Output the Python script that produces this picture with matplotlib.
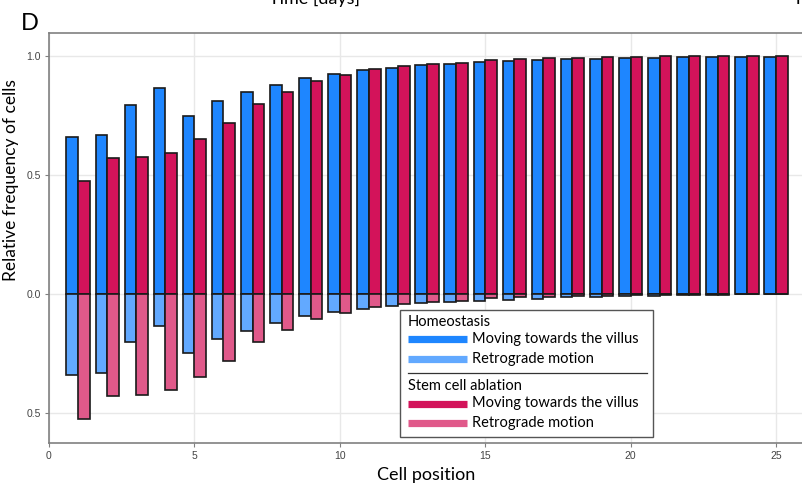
import numpy as np
import matplotlib
matplotlib.use("Agg")
import matplotlib.pyplot as plt
from matplotlib.patches import Rectangle
from matplotlib.lines import Line2D

# values
cell_positions = list(range(1, 26))
homeostasis_forward = [0.661, 0.670, 0.797, 0.866, 0.750, 0.813, 0.848, 0.879, 0.907, 0.927,
                       0.942, 0.952, 0.962, 0.968, 0.975, 0.979, 0.983, 0.987, 0.990, 0.992,
                       0.994, 0.997, 0.998, 0.999, 0.999]
homeostasis_retrograde = [0.340, 0.331, 0.203, 0.134, 0.249, 0.187, 0.153, 0.121, 0.092, 0.075,
                          0.061, 0.048, 0.039, 0.032, 0.027, 0.024, 0.020, 0.014, 0.011, 0.007,
                          0.006, 0.004, 0.002, 0.001, 0.001]
ablation_forward = [0.474, 0.571, 0.578, 0.595, 0.654, 0.719, 0.800, 0.851, 0.896, 0.923,
                    0.945, 0.959, 0.966, 0.973, 0.983, 0.987, 0.992, 0.992, 0.996, 0.999,
                    1.000, 1.000, 1.000, 1.000, 1.000]
ablation_retrograde = [0.525, 0.430, 0.423, 0.405, 0.347, 0.281, 0.201, 0.151, 0.105, 0.079,
                       0.056, 0.041, 0.035, 0.028, 0.017, 0.014, 0.011, 0.008, 0.006, 0.004,
                       0.003, 0.002, 0.002, 0.000, 0.000]
y_ticks = [-0.5, 0.0, 0.5, 1.0]
y_tick_labels = ["0.5", "0.0", "0.5", "1.0"]
x_ticks = [0, 5, 10, 15, 20, 25]

blue = "#1E86FF"
light_blue = "#62A9FF"
red = "#D3135A"
pink = "#E0598A"
edge = "#1a1a1a"
label_font = ["Lato", "DejaVu Sans"]
tick_font = ["Liberation Sans", "DejaVu Sans"]

W, H = 803, 487
fig = plt.figure(figsize=(W / 100, H / 100), dpi=100)


def fx(px):
    return px / W


def fy(py):
    return 1 - py / H


ax = fig.add_axes([fx(49), fy(443), fx(803 - 49), (443 - 33) / H])

x = np.array(cell_positions)
width = 0.4
ax.bar(x - 0.2, homeostasis_forward, width, color=blue, edgecolor=edge, linewidth=1.2, zorder=3)
ax.bar(x + 0.2, ablation_forward, width, color=red, edgecolor=edge, linewidth=1.2, zorder=3)
ax.bar(x - 0.2, -np.array(homeostasis_retrograde), width, color=light_blue, edgecolor=edge,
       linewidth=1.2, zorder=3)
ax.bar(x + 0.2, -np.array(ablation_retrograde), width, color=pink, edgecolor=edge,
       linewidth=1.2, zorder=3)

ax.set_xlim(0, (803 - 49) / 29.08)
ax.set_ylim(-0.626, 1.098)
ax.set_xticks(x_ticks)
ax.set_yticks(y_ticks)
ax.set_yticklabels(y_tick_labels)
ax.grid(True, color="#e8e8e8", linewidth=1.0, zorder=0)
ax.set_axisbelow(True)

for side in ["left", "bottom", "top"]:
    ax.spines[side].set_color("#808080")
    ax.spines[side].set_linewidth(1.2)
ax.spines["right"].set_visible(False)
ax.tick_params(axis="both", direction="out", length=3, width=0.8, color="#808080",
               labelsize=7.5, labelcolor="#444444", pad=3)
for lab in ax.get_xticklabels() + ax.get_yticklabels():
    lab.set_family(tick_font)

ax.set_xlabel("Cell position", fontsize=13, family=label_font, labelpad=4)
ax.set_ylabel("Relative frequency of cells", fontsize=12.5, family=label_font)
ax.yaxis.set_label_coords((19 - 49) / (803 - 49), (443 - 180) / (443 - 33))

# panel letter and clipped titles from the panel above
fig.text(fx(21), fy(30), "D", fontsize=17, family=label_font, va="baseline", ha="left")
fig.text(fx(315), fy(4), "Time [days]", fontsize=13, family=label_font, va="baseline", ha="center")
fig.text(fx(793), fy(4), "Time [days]", fontsize=13, family=label_font, va="baseline", ha="left")

# legend drawn by hand, one box with two groups
fig.add_artist(Rectangle((fx(400), fy(437)), fx(653 - 400), (437 - 310) / H,
                         transform=fig.transFigure, facecolor="white", edgecolor="#555555",
                         linewidth=1.0, zorder=5))
legend_fs = 10.5
fig.text(fx(408), fy(322), "Homeostasis", fontsize=legend_fs, family=label_font,
         va="center", ha="left", zorder=6)
fig.text(fx(408), fy(386), "Stem cell ablation", fontsize=legend_fs, family=label_font,
         va="center", ha="left", zorder=6)
entries = [(339, blue, "Moving towards the villus"),
           (358.5, light_blue, "Retrograde motion"),
           (403.5, red, "Moving towards the villus"),
           (423, pink, "Retrograde motion")]
for py, col, txt in entries:
    fig.add_artist(Line2D([fx(408), fx(467)], [fy(py), fy(py)], transform=fig.transFigure,
                          color=col, linewidth=5.2, solid_capstyle="butt", zorder=6))
    fig.text(fx(472.5), fy(py), txt, fontsize=legend_fs, family=label_font,
             va="center", ha="left", zorder=6)
fig.add_artist(Line2D([fx(408), fx(647)], [fy(372.5), fy(372.5)], transform=fig.transFigure,
                      color="#333333", linewidth=0.9, zorder=6))

fig.savefig("out.png", dpi=100)
